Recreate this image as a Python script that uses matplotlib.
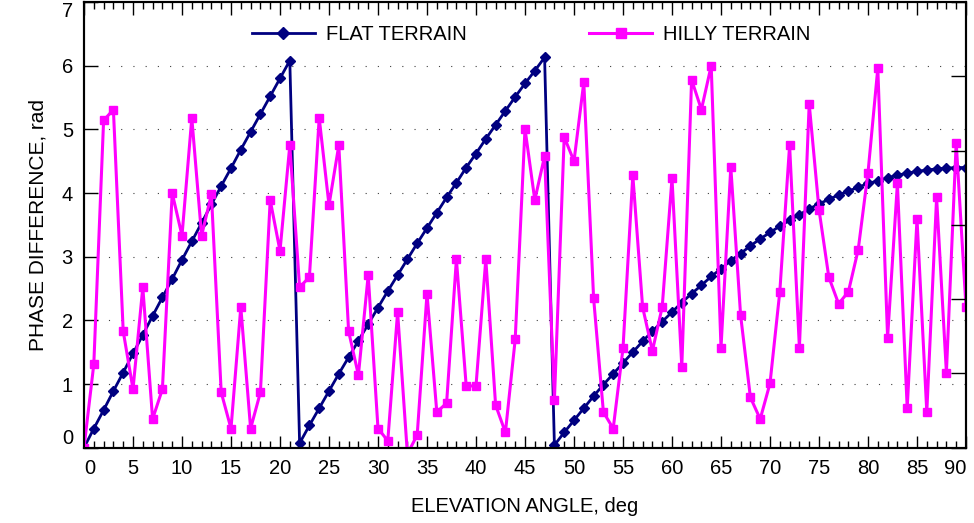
import numpy as np
import matplotlib
matplotlib.use("Agg")
import matplotlib.pyplot as plt
from matplotlib.ticker import MultipleLocator
from matplotlib.lines import Line2D

plt.rcParams["font.family"] = ["Liberation Sans", "DejaVu Sans"]

# elevation angle, one sample per degree
elev_deg = list(range(0, 91))

# phase difference over flat ground (wraps at 2*pi)
flat_rad = [
    0.00, 0.30, 0.59, 0.89, 1.18, 1.48, 1.77, 2.07, 2.36, 2.65,
    2.95, 3.24, 3.53, 3.82, 4.11, 4.39, 4.68, 4.96, 5.24, 5.52,
    5.80, 6.08, 0.07, 0.35, 0.62, 0.89, 1.16, 1.42, 1.68, 1.94,
    2.20, 2.46, 2.71, 2.96, 3.21, 3.45, 3.69, 3.93, 4.16, 4.40,
    4.62, 4.85, 5.07, 5.29, 5.51, 5.72, 5.92, 6.13, 0.04, 0.24,
    0.43, 0.62, 0.81, 0.99, 1.16, 1.33, 1.50, 1.67, 1.83, 1.98,
    2.13, 2.28, 2.42, 2.55, 2.69, 2.81, 2.94, 3.05, 3.17, 3.28,
    3.38, 3.48, 3.57, 3.66, 3.75, 3.83, 3.90, 3.97, 4.03, 4.09,
    4.15, 4.19, 4.24, 4.28, 4.31, 4.34, 4.36, 4.38, 4.39, 4.40,
    4.40,
]

# phase difference over hilly ground
hilly_rad = [
    0.00, 1.31, 5.14, 5.31, 1.83, 0.92, 2.52, 0.45, 0.92, 4.00,
    3.33, 5.18, 3.33, 3.98, 0.87, 0.30, 2.21, 0.30, 0.87, 3.89,
    3.09, 4.75, 2.52, 2.68, 5.18, 3.81, 4.75, 1.83, 1.14, 2.71,
    0.30, 0.11, 2.13, -0.10, 0.20, 2.42, 0.56, 0.70, 2.96, 0.97,
    0.97, 2.96, 0.67, 0.24, 1.70, 5.01, 3.89, 4.58, 0.75, 4.88,
    4.50, 5.74, 2.35, 0.56, 0.30, 1.56, 4.28, 2.21, 1.52, 2.21,
    4.23, 1.27, 5.78, 5.31, 6.00, 1.57, 4.41, 2.08, 0.79, 0.45,
    1.01, 2.45, 4.75, 1.57, 5.40, 3.74, 2.68, 2.26, 2.45, 3.11,
    4.32, 5.96, 1.73, 4.15, 0.62, 3.59, 0.56, 3.93, 1.18, 4.79,
    2.21,
]

NAVY = "#000080"
MAGENTA = "#ff00ff"

fig = plt.figure(figsize=(9.74, 5.23), dpi=100)
ax = fig.add_axes([84 / 974, 1 - 447.7 / 523, 882 / 974, 445.7 / 523])

ax.plot(elev_deg, flat_rad, "-", color=NAVY, lw=2.0, marker="D", ms=4.6,
        solid_joinstyle="miter", zorder=3)
ax.plot(elev_deg, hilly_rad, "-", color=MAGENTA, lw=2.2, marker="s", ms=5.8,
        solid_joinstyle="miter", zorder=4)

ax.set_xlim(0, 90)
ax.set_ylim(0, 7)
ax.set_xticks(range(0, 91, 5))
ax.xaxis.set_minor_locator(MultipleLocator(1))
ax.set_yticks(range(0, 8))

ax.tick_params(axis="x", which="major", direction="in", top=True, bottom=True,
               length=9, width=1.0, labelsize=14.5, pad=8)
ax.tick_params(axis="x", which="minor", direction="in", top=True, bottom=True,
               length=5, width=1.0)
ax.tick_params(axis="y", which="major", direction="in", left=True, right=False,
               length=10, width=1.0, labelsize=14.5, pad=8)

# keep the end labels inside the frame
xt = ax.xaxis.get_major_ticks()
xt[0].label1.set_horizontalalignment("left")
xt[-1].label1.set_horizontalalignment("right")
yt = ax.yaxis.get_major_ticks()
yt[0].label1.set_verticalalignment("bottom")
yt[-1].label1.set_verticalalignment("top")

for s in ax.spines.values():
    s.set_linewidth(1.5)

ax.yaxis.grid(True, linestyle=(0, (1, 10)), color="0.25", lw=0.8)

# right-hand frame ticks split the height into six steps
ax2 = ax.twinx()
ax2.set_ylim(0, 6)
ax2.set_yticks(range(0, 7))
ax2.tick_params(axis="y", direction="in", length=11, width=1.0, labelright=False)
for s in ax2.spines.values():
    s.set_linewidth(1.5)

ax.set_xlabel("ELEVATION ANGLE, deg", fontsize=14.5, labelpad=14)
ax.set_ylabel("PHASE DIFFERENCE, rad", fontsize=15, labelpad=10)

handles = [
    Line2D([], [], color=NAVY, lw=2, marker="D", ms=6.5),
    Line2D([], [], color=MAGENTA, lw=2.2, marker="s", ms=7.5),
]
ax.legend(handles, ["FLAT TERRAIN", "HILLY TERRAIN"], loc="center",
          bbox_to_anchor=(0.507, 0.926), ncol=2, frameon=False, fontsize=14.5,
          handlelength=3.1, handletextpad=0.55, columnspacing=6.1)

fig.savefig("out.png", dpi=100)
